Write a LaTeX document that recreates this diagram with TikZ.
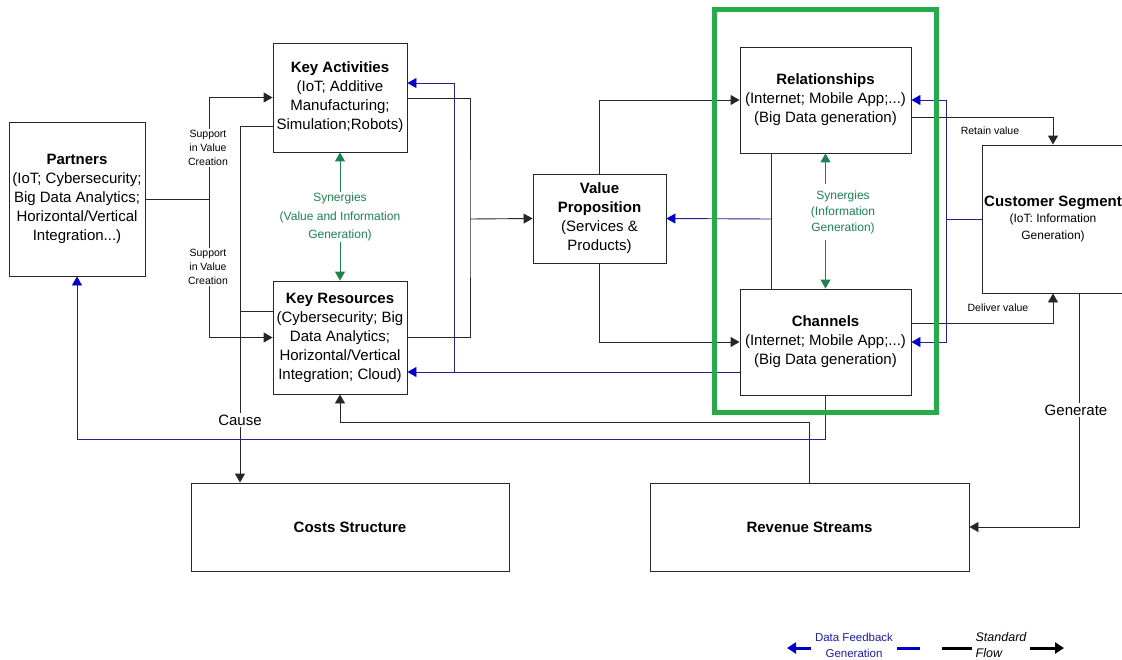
\documentclass[tikz,border=0pt]{standalone}
\usepackage{fontspec}
\setmainfont{Liberation Sans}
\usepackage{xcolor}
\usepackage{tikz}
\usetikzlibrary{shapes}
\usetikzlibrary{arrows}
\usetikzlibrary{arrows.meta}
\definecolor{fbline}{RGB}{35,35,140}
\definecolor{fbhead}{RGB}{0,0,200}
\definecolor{fbtext}{RGB}{30,30,170}
\definecolor{syngreen}{RGB}{30,130,80}
\definecolor{framegreen}{RGB}{40,170,75}
\tikzset{
	box/.style={rectangle,draw=black!85,line width=0.9pt,align=center,inner sep=2pt,font=\fontsize{15}{19}\selectfont},
	flow/.style={draw=black!85,line width=0.9pt},
	fb/.style={draw=fbline,line width=0.9pt},
	fbarrow/.style={fb,-{Triangle[length=9pt,width=10pt,color=fbhead]}},
	syn/.style={text=syngreen,align=center,inner sep=1pt},
	synarrow/.style={draw=syngreen,line width=1pt,-{Triangle[length=9pt,width=10pt]}},
	small label/.style={fill=white,align=center,inner sep=1pt,font=\fontsize{10.5}{14}\selectfont},
	big label/.style={fill=white,inner sep=2pt,font=\fontsize{15}{19}\selectfont}
}

\begin{document}
\begin{tikzpicture}[x=1pt,y=-1pt,>={Triangle[length=9pt,width=10pt]}]
	\useasboundingbox (0,0) rectangle (1122,659);
	\clip (0,0) rectangle (1122,659);
	\fill[white] (0,0) rectangle (1122,659);

	\node[box,minimum width=136pt,minimum height=154pt] (partners) at (77,199)
		{\textbf{Partners}\\(IoT; Cybersecurity;\\Big Data Analytics;\\Horizontal/Vertical\\Integration...)};
	\node[box,minimum width=134pt,minimum height=109pt] (ka) at (340,97.5)
		{\textbf{Key Activities}\\(IoT; Additive\\Manufacturing;\\Simulation;Robots)};
	\node[box,minimum width=134pt,minimum height=113pt] (kr) at (340,337.5)
		{\textbf{Key Resources}\\(Cybersecurity; Big\\Data Analytics;\\Horizontal/Vertical\\Integration; Cloud)};
	\node[box,minimum width=133pt,minimum height=89pt] (vp) at (599.5,218.5)
		{\textbf{Value}\\\textbf{Proposition}\\(Services \&\\Products)};
	\node[box,minimum width=171pt,minimum height=106pt] (rel) at (825.5,100)
		{\textbf{Relationships}\\(Internet; Mobile App;...)\\(Big Data generation)};
	\node[box,minimum width=171pt,minimum height=106pt] (ch) at (825.5,342)
		{\textbf{Channels}\\(Internet; Mobile App;...)\\(Big Data generation)};
	\node[box,minimum width=142pt,minimum height=148pt,font=\fontsize{12}{16.5}\selectfont] (cs) at (1053,219)
		{{\fontsize{15}{19}\selectfont\textbf{Customer Segment}}\\(IoT: Information\\Generation)};
	\node[box,minimum width=318pt,minimum height=88pt] (costs) at (350,527) {\textbf{Costs Structure}};
	\node[box,minimum width=319pt,minimum height=88pt] (rev) at (809.5,527) {\textbf{Revenue Streams}};

	\node[syn,font=\fontsize{12}{18.5}\selectfont] (syn1) at (340,217)
		{Synergies\\(Value and Information\\Generation)};
	\node[syn,font=\fontsize{12}{16}\selectfont,inner sep=6pt] (syn2) at (843,212)
		{Synergies\\(Information\\Generation)};

	\coordinate (sup) at (209,199);
	\draw[flow] (partners.east) -- (sup);
	\draw[flow,->] (sup) |- (ka.west);
	\draw[flow,->] (sup) |- (kr.west);
	\draw[flow,->] (ka.west |- 0,126) -| (240,0 |- costs.north);
	\draw[flow] (kr.west |- 0,311) -- (240,311);
	\draw[flow] (ka.east |- 0,98) -| (470,219) |- (kr.east);
	\draw[flow,->] (470,219) -- (vp.west);
	\draw[flow,->] (vp.north) |- (rel.west);
	\draw[flow,->] (vp.south) |- (ch.west);
	\draw[flow,->] (rel.east |- 0,117) -| (cs.north);
	\draw[flow,->] (ch.east |- 0,323) -| (cs.south);
	\draw[flow,->] (cs.south -| 1079,0) |- (rev.east);
	\draw[flow,->] (rev.north) |- (kr.south |- 0,422) -- (kr.south);

	\draw[fbarrow] (ch.west |- 0,372) -- (kr.east |- 0,372);
	\draw[fbarrow] (454,372) |- (ka.east |- 0,83);
	\draw[fb] (rel.south -| 771,0) -- (ch.north -| 771,0);
	\draw[fbarrow] (771,219) -- (vp.east);
	\draw[fb] (cs.west) -- (946,219);
	\draw[fbarrow] (946,219) |- (rel.east);
	\draw[fbarrow] (946,219) |- (ch.east);
	\draw[fbarrow] (ch.south) |- (partners.south |- 0,439) -- (partners.south);

	\draw[synarrow] (syn1.north) -- (ka.south);
	\draw[synarrow] (syn1.south) -- (kr.north);
	\draw[synarrow] (syn2.north -| rel.south) -- (rel.south);
	\draw[synarrow] (syn2.south -| ch.north) -- (ch.north);

	\node[small label] (sup1) at (208,148) {Support\\in Value\\Creation};
	\node[small label] (sup2) at (208,267) {Support\\in Value\\Creation};
	\node[big label] (cause) at (240,420) {Cause};
	\node[big label] (gen) at (1076,410) {Generate};
	\node[small label,fill=none] (retain) at (990,131) {Retain value};
	\node[small label,fill=none] (deliver) at (998,308) {Deliver value};

	\node[draw=framegreen,line width=5pt,minimum width=222pt,minimum height=403pt] (frame) at (825,210.5) {};

	\node[text=fbtext,align=center,font=\fontsize{11.5}{16}\selectfont] (fbkey) at (854,645) {Data Feedback\\Generation};
	\coordinate (fbtip) at (787,648);
	\coordinate (fbdash) at (920,648);
	\draw[fbhead,line width=3pt,-{Triangle[length=9pt,width=11pt]}] (fbkey.west |- fbtip) -- (fbtip);
	\draw[fbhead,line width=3pt] (fbkey.east |- fbdash) -- (fbdash);
	\node[align=left,font=\itshape\fontsize{12.5}{16}\selectfont] (stdkey) at (1001,645) {Standard\\Flow};
	\coordinate (stdtail) at (942,648);
	\coordinate (stdtip) at (1064,648);
	\draw[line width=3pt] (stdtail) -- (stdkey.west |- stdtail);
	\draw[line width=3pt,-{Triangle[length=9pt,width=11pt]}] (stdkey.east |- stdtip) -- (stdtip);
\end{tikzpicture}
\end{document}
